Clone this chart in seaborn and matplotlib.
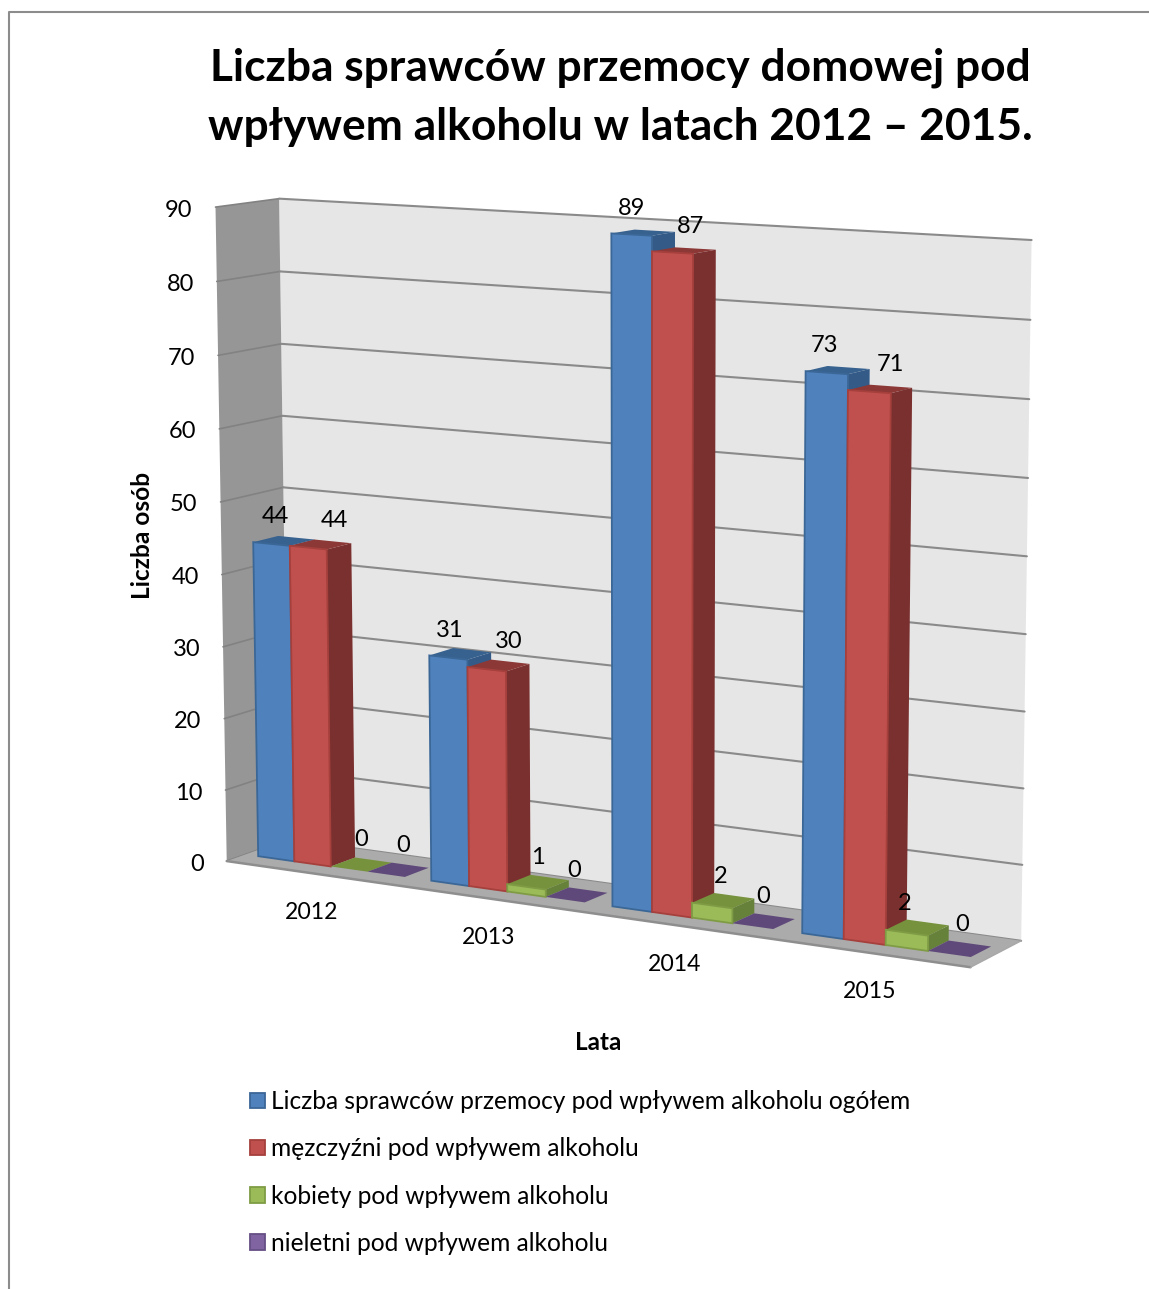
import numpy as np
import pandas as pd
import matplotlib
matplotlib.use("Agg")
import matplotlib.pyplot as plt
from matplotlib.lines import Line2D
from matplotlib.patches import Polygon
from matplotlib.transforms import IdentityTransform, Transform
import seaborn as sns

# ---- data ----
years = ["2012", "2013", "2014", "2015"]
series = ["Liczba sprawców przemocy pod wpływem alkoholu ogółem",
          "męzczyźni pod wpływem alkoholu",
          "kobiety pod wpływem alkoholu",
          "nieletni pod wpływem alkoholu"]
total = [44, 31, 89, 73]
men = [44, 30, 87, 71]
women = [0, 1, 2, 2]
minors = [0, 0, 0, 0]
y_ticks = [0, 10, 20, 30, 40, 50, 60, 70, 80, 90]
title = "Liczba sprawców przemocy domowej pod\nwpływem alkoholu w latach 2012 – 2015."
y_title = "Liczba osób"
x_title = "Lata"

# ---- style ----
front = ["#4F81BD", "#C0504D", "#9BBB59", "#8064A2"]
edge = ["#3B6797", "#A5403D", "#7F9C45", "#664F85"]
side = ["#345A88", "#7A302E", "#66813A", "#5A4578"]
top = ["#37618F", "#8C3836", "#76923C", "#5F497A"]
# label placement relative to the bar's front-top centre (series x category)
label_dx = [[4, 1, 0, -2], [26, 22, 18, 21], [12, 11, 9, -2], [17, 9, 10, 13]]
label_dy = [[-27, -27, -26, -27], [-27, -28, -26, -27], [-30, -29, -29, -29], [-29, -29, -30, -29]]
W, H = 1149, 1289
FONT = "Lato"
BAR_W0, BAR_W1 = 0.30, 0.70

sns.set_theme(style="white", rc={"font.family": FONT, "text.color": "black"})

# ---- perspective camera calibrated on the chart box: (x, value, depth) -> (px, py)
_cal = [
    (0, 90, 0, 215.5, 207), (0, 80, 0, 217, 281), (0, 70, 0, 218, 355), (0, 60, 0, 220, 429),
    (0, 50, 0, 221, 502), (0, 0, 0, 226, 862),
    (0, 90, 1, 279, 199), (0, 80, 1, 280, 271), (0, 70, 1, 281, 344), (0, 60, 1, 282, 416),
    (0, 50, 1, 283, 488), (0, 0, 1, 289, 838),
    (4, 90, 1, 1032, 240), (4, 80, 1, 1030.5, 320), (4, 70, 1, 1029, 399), (4, 60, 1, 1027.5, 478),
    (4, 0, 1, 1022, 941), (4, 0, 0, 970, 967),
]
_A, _b = [], []
for X, Y, Z, px, py in _cal:
    _A.append([X, Y, Z, 1, 0, 0, 0, 0, -px * X, -px * Y, -px * Z]); _b.append(px)
    _A.append([0, 0, 0, 0, X, Y, Z, 1, -py * X, -py * Y, -py * Z]); _b.append(py)
_p = np.linalg.lstsq(np.array(_A, float), np.array(_b, float), rcond=None)[0]
CAM = np.append(_p, 1.0).reshape(3, 4)


def project(u, v, w):
    """Return pixel position (origin top-left)."""
    q = CAM @ np.array([u, v, w, 1.0])
    return np.array([q[0] / q[2], q[1] / q[2]])


def disp(u, v, w):
    p = project(u, v, w)
    return (p[0], H - p[1])


class Persp(Transform):
    input_dims = output_dims = 2

    def __init__(self, bar_depth):
        super().__init__()
        self.bar_depth = bar_depth

    def transform_non_affine(self, values):
        values = np.asarray(values, float)
        return np.array([disp(x + 0.5, y, self.bar_depth) for x, y in values]).reshape(-1, 2)


fig = plt.figure(figsize=(W / 100, H / 100), dpi=100, facecolor="white")
ax = fig.add_axes([0, 0, 1, 1])
ident = IdentityTransform()

df = pd.DataFrame({
    "rok": np.tile(years, 4),
    "liczba": np.concatenate([total, men, women, minors]),
    "seria": np.repeat(series, 4),
})
sns.barplot(data=df, x="rok", y="liczba", hue="seria", hue_order=series, palette=front,
            saturation=1, width=0.85, gap=0, ax=ax, zorder=5)
ax.set_xlim(-0.5, 3.5)
ax.set_ylim(0, 90)
ax.axis("off")


def poly(pts, color, z, ec=None, lw=0.0):
    ax.add_patch(Polygon([disp(*p) for p in pts], closed=True, facecolor=color,
                         edgecolor=ec if ec else color, linewidth=lw, transform=ident,
                         clip_on=False, zorder=z, joinstyle="round"))


def line(pts, color, lw, z):
    xy = np.array([disp(*p) for p in pts])
    ax.add_line(Line2D(xy[:, 0], xy[:, 1], color=color, lw=lw, transform=ident, clip_on=False,
                       zorder=z, solid_capstyle="round"))


# chart box
poly([(0, 0, 1), (4, 0, 1), (4, 90, 1), (0, 90, 1)], "#E6E6E6", 1)
poly([(0, 0, 0), (0, 0, 1), (0, 90, 1), (0, 90, 0)], "#969696", 1)
poly([(0, 0, 0), (4, 0, 0), (4, 0, 1), (0, 0, 1)], "#ABABAB", 2)
line([(0, 0, 0), (4, 0, 0)], "#8E8E8E", 1.8, 2.5)
line([(4, 0, 0), (4, 0, 1)], "#A8A8A8", 1.0, 2.5)
for v in y_ticks:
    line([(0, v, 0), (0, v, 1)], "#828282", 1.2, 1.5)
    line([(0, v, 1), (4, v, 1)], "#8A8A8A", 1.5, 1.5)
    p = project(0, v, 0)
    ax.text(p[0] - 23, H - (p[1] + 3), str(v), ha="right", va="center", fontsize=17, transform=ident,
            clip_on=False, zorder=200)

# bars: the seaborn rectangles get the perspective transform, the 3-D faces are built from them
items = []
for h, container in enumerate(ax.containers):
    for i, bar in enumerate(container):
        items.append((bar.get_x(), h, i, bar))
items.sort(key=lambda t: t[0])
for k, (x0, h, i, bar) in enumerate(items):
    z = 10 + 4 * k
    u0 = x0 + 0.5
    u1 = u0 + bar.get_width()
    val = bar.get_height()
    poly([(u1, 0, BAR_W0), (u1, 0, BAR_W1), (u1, val, BAR_W1), (u1, val, BAR_W0)], side[h], z)
    poly([(u0, val, BAR_W0), (u1, val, BAR_W0), (u1, val, BAR_W1), (u0, val, BAR_W1)], top[h], z + 1)
    bar.set_transform(Persp(BAR_W0))
    bar.set_clip_on(False)
    bar.set_zorder(z + 2)
    bar.set_edgecolor(edge[h])
    bar.set_linewidth(1.3 if val > 0 else 0)
    c = project((u0 + u1) / 2, val, BAR_W0)
    ax.text(c[0] + label_dx[h][i], H - (c[1] + label_dy[h][i]), f"{val:.0f}", ha="center", va="center",
            fontsize=17, transform=ident, clip_on=False, zorder=200)

# year labels
for i, yr in enumerate(years):
    p = project(i + 0.5, 0, 0)
    ax.text(p[0] - 0.5, H - (p[1] + 39), yr, ha="center", va="center", fontsize=16.6, transform=ident,
            clip_on=False)

# titles


def fit(t, width):
    r = fig.canvas.get_renderer()
    e = t.get_window_extent(r)
    t.set_fontsize(t.get_fontsize() * width / max(e.width, e.height))


tt = fig.text(620 / W, 1 - 97.5 / H, title, ha="center", va="center", fontweight="bold", fontsize=30,
              linespacing=1.58)
fit(tt, 822)
yt = fig.text(143 / W, 1 - 535 / H, y_title, rotation=90, ha="center", va="center", fontweight="bold",
              fontsize=15)
fit(yt, 127)
xt = fig.text(598 / W, 1 - 1042 / H, x_title, ha="center", va="center", fontweight="bold", fontsize=15)
fit(xt, 46)

# legend
fs = 17.65
sns.move_legend(ax, "upper left", bbox_to_anchor=(250 / W, 1 - 1090 / H), bbox_transform=fig.transFigure,
                frameon=False, title=None, fontsize=fs, labelspacing=0.99, handlelength=0.6,
                handleheight=0.6, handletextpad=0.24, borderpad=0, borderaxespad=0)
for hnd, e in zip(ax.get_legend().get_patches(), edge):
    hnd.set_edgecolor(e)
    hnd.set_linewidth(1.3)

# frame of the chart area
fig.add_artist(Line2D([9 / W, 9 / W, 1], [0, 1 - 12 / H, 1 - 12 / H], color="#8C8C8C", lw=1.5))

fig.savefig("out.png", dpi=100)
